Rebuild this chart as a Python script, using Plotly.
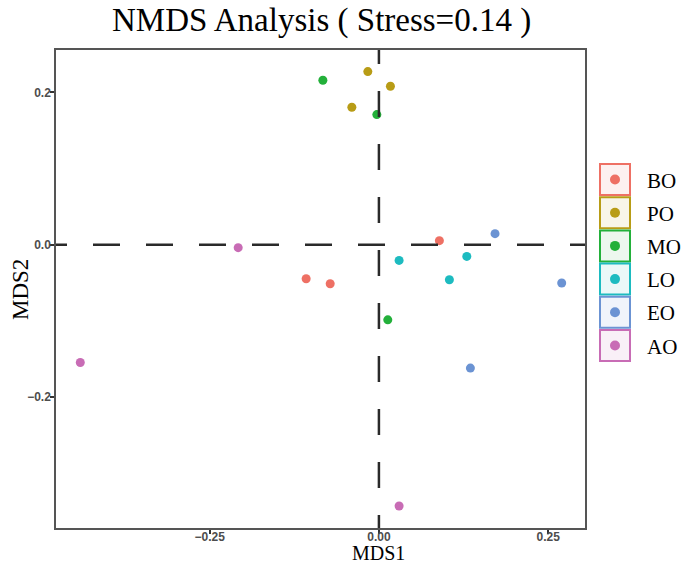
import plotly.graph_objects as go

groups = ["BO", "PO", "MO", "LO", "EO", "AO"]
colors = ["#EE7064", "#B89C16", "#23B03A", "#1DBBC0", "#6B93D3", "#C86CB5"]
fills = ["#FDF1F0", "#F8F5E8", "#EDF7EE", "#EBF8F8", "#F0F4FB", "#F9F0F7"]

mds1 = {
    "BO": [-0.1075, -0.0720, 0.0893],
    "PO": [-0.0164, -0.0400, 0.0170],
    "MO": [-0.0828, -0.0031, 0.0131],
    "LO": [0.0298, 0.1041, 0.1298],
    "EO": [0.1715, 0.2700, 0.1351],
    "AO": [-0.4411, -0.2079, 0.0298],
}
mds2 = {
    "BO": [-0.0447, -0.0512, 0.0053],
    "PO": [0.2273, 0.1804, 0.2080],
    "MO": [0.2159, 0.1708, -0.0986],
    "LO": [-0.0206, -0.0460, -0.0154],
    "EO": [0.0145, -0.0503, -0.1620],
    "AO": [-0.1547, -0.0039, -0.3430],
}

x_ticks = [-0.25, 0.0, 0.25]
x_ticklabels = ["\u22120.25", "0.00", "0.25"]
y_ticks = [-0.2, 0.0, 0.2]
y_ticklabels = ["\u22120.2", "0.0", "0.2"]

W, H = 685, 565
L, R, T, B = 56, 100, 50, 37
PW, PH = W - L - R, H - T - B
xr = [-0.477, 0.3044]
yr = [-0.3719, 0.2556]

fig = go.Figure()
for g, c in zip(groups, colors):
    fig.add_trace(go.Scatter(
        x=mds1[g], y=mds2[g], mode="markers", name=g,
        marker=dict(color=c, size=9, line=dict(width=0)),
        showlegend=False,
    ))

def px2x(p):
    return xr[0] + (p - L) / PW * (xr[1] - xr[0])

def py2y(p):
    return yr[1] - (p - T) / PH * (yr[1] - yr[0])

shapes = []
# reference dashed lines
shapes.append(dict(type="line", xref="x", yref="y", x0=px2x(40), x1=px2x(600), y0=0, y1=0,
                   line=dict(color="#2a2a2a", width=2.5, dash="27px,26px"), layer="above"))
shapes.append(dict(type="line", xref="x", yref="y", x0=0, x1=0, y0=py2y(38), y1=py2y(560),
                   line=dict(color="#2a2a2a", width=2.5, dash="26px,27px"), layer="above"))

def ppx(p):
    return (p - L) / PW

def ppy(p):
    return (H - B - p) / PH

annotations = []
for i, (g, c, f) in enumerate(zip(groups, colors, fills)):
    top = 164 + 33.2 * i
    bot = top + 31
    shapes.append(dict(type="rect", xref="paper", yref="paper",
                       x0=ppx(600), x1=ppx(630), y0=ppy(bot), y1=ppy(top),
                       line=dict(color=c, width=2), fillcolor=f, layer="above"))
    cy = (top + bot) / 2
    shapes.append(dict(type="circle", xref="paper", yref="paper",
                       x0=ppx(615 - 5), x1=ppx(615 + 5), y0=ppy(cy + 5), y1=ppy(cy - 5),
                       line=dict(width=0), fillcolor=c, layer="above"))
    annotations.append(dict(text=g, xref="paper", yref="paper", x=ppx(645), y=ppy(cy + 1),
                            xanchor="left", yanchor="middle", showarrow=False,
                            font=dict(family="Liberation Serif", size=21, color="black")))

annotations.append(dict(text="MDS1", xref="paper", yref="paper", x=ppx(379), y=ppy(565),
                        xanchor="center", yanchor="bottom", showarrow=False, borderpad=0,
                        font=dict(family="Liberation Serif", size=20, color="black")))
annotations.append(dict(text="MDS2", xref="paper", yref="paper", x=ppx(20), y=ppy(290),
                        xanchor="center", yanchor="middle", showarrow=False, textangle=-90,
                        font=dict(family="Liberation Serif", size=23, color="black")))
annotations.append(dict(text="NMDS Analysis ( Stress=0.14 )", xref="paper", yref="paper",
                        x=ppx(321), y=ppy(21), xanchor="center", yanchor="middle", showarrow=False,
                        font=dict(family="Liberation Serif", size=33, color="black")))

axis_common = dict(showgrid=False, zeroline=False, showline=True, mirror=True,
                   linecolor="#555555", linewidth=1.5, ticks="outside", ticklen=4,
                   tickwidth=1.5, tickcolor="#333333",
                   tickfont=dict(family="Liberation Sans", size=12, color="#4d4d4d", weight="bold"))

fig.update_layout(
    width=W, height=H,
    margin=dict(l=L, r=R, t=T, b=B),
    plot_bgcolor="white", paper_bgcolor="white",
    xaxis=dict(range=xr, tickvals=x_ticks, ticktext=x_ticklabels, ticklabelstandoff=-7,
               **axis_common),
    yaxis=dict(range=yr, tickvals=y_ticks, ticktext=y_ticklabels, ticklabelstandoff=-3,
               **axis_common),
    shapes=shapes, annotations=annotations, showlegend=False,
)

fig.write_html("out.html", config={"displayModeBar": False},
               post_script="document.body.style.margin='0';")
